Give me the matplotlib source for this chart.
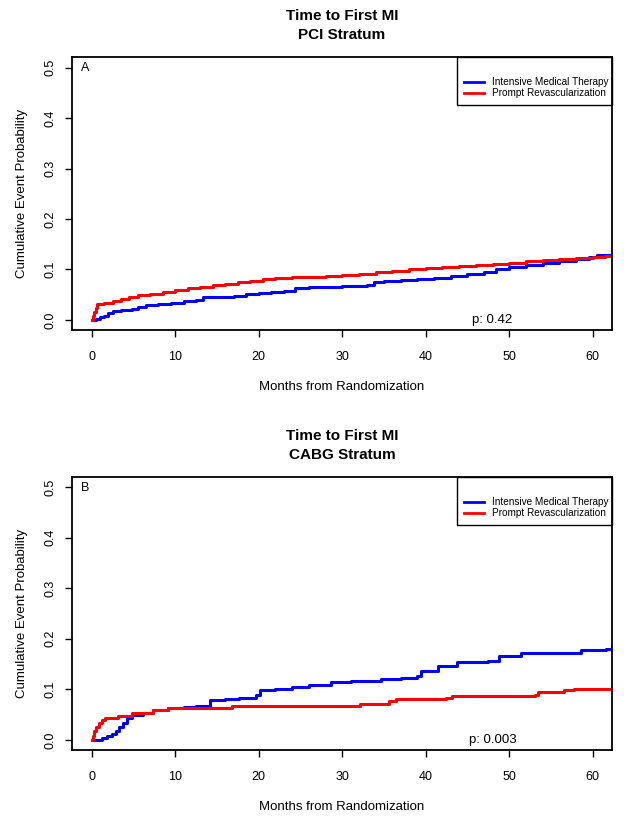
import matplotlib
matplotlib.use("Agg")
import matplotlib.pyplot as plt
from matplotlib.patches import Rectangle

plt.rcParams['font.family'] = ['Liberation Sans', 'DejaVu Sans']

# panel A: PCI stratum (months, cumulative event probability)
pci_med_t = [0, 0.5, 1, 1.5, 2, 2.6, 3.5, 4.8, 5.5, 6.5, 8, 9.5, 11, 12.5, 13.3, 15, 17, 18.5,
             20, 21.5, 23, 24.4, 26, 28.3, 30, 33, 33.8, 35, 37, 39, 41, 43, 45, 47, 48.4,
             50, 52, 54, 56, 58, 59.5, 60.5, 62.5]
pci_med_y = [0, 0.002, 0.005, 0.008, 0.013, 0.018, 0.020, 0.022, 0.026, 0.030, 0.032, 0.034,
             0.037, 0.040, 0.045, 0.046, 0.048, 0.051, 0.053, 0.056, 0.058, 0.064, 0.065,
             0.066, 0.068, 0.069, 0.076, 0.077, 0.079, 0.082, 0.084, 0.087, 0.090, 0.094,
             0.101, 0.104, 0.109, 0.112, 0.116, 0.120, 0.124, 0.129, 0.129]
pci_rev_t = [0, 0.15, 0.3, 0.5, 0.7, 1.5, 2.5, 3.5, 4.5, 5.5, 7, 8.5, 10, 11.5, 13, 14.5, 16,
             17.5, 19, 20.5, 22, 24, 26, 28, 30, 32, 34, 36, 38, 40, 42, 44, 46, 48, 50, 52,
             54, 56, 58, 60, 61.5, 62.5]
pci_rev_y = [0, 0.008, 0.016, 0.024, 0.031, 0.034, 0.037, 0.041, 0.046, 0.049, 0.052, 0.056,
             0.060, 0.063, 0.066, 0.069, 0.072, 0.076, 0.078, 0.081, 0.083, 0.085, 0.086,
             0.087, 0.089, 0.091, 0.094, 0.097, 0.100, 0.102, 0.105, 0.107, 0.109, 0.111,
             0.113, 0.116, 0.118, 0.121, 0.123, 0.124, 0.126, 0.126]

# panel B: CABG stratum
cabg_med_t = [0, 0.7, 1.3, 1.8, 2.4, 2.9, 3.3, 3.7, 4.2, 4.8, 6.1, 7.4, 9.1, 11, 12.5, 14.2,
              16, 17.6, 19.7, 20.2, 22, 24, 26, 28.7, 31, 34.7, 37, 39, 39.4, 41.5, 43.7,
              47.5, 48.8, 51.4, 57.8, 58.6, 61.6, 62.3]
cabg_med_y = [0, 0, 0.004, 0.007, 0.012, 0.017, 0.025, 0.034, 0.043, 0.050, 0.053, 0.060,
              0.063, 0.065, 0.068, 0.079, 0.081, 0.083, 0.0895, 0.098, 0.101, 0.105, 0.109,
              0.114, 0.116, 0.120, 0.123, 0.126, 0.136, 0.146, 0.155, 0.156, 0.165, 0.172,
              0.172, 0.178, 0.180, 0.186]
cabg_rev_t = [0, 0.15, 0.3, 0.55, 0.85, 1.2, 1.6, 3.1, 4.8, 7.4, 9.1, 16.8, 32.1, 35.6, 36.4,
              42.4, 43.2, 53.1, 53.5, 56.5, 57.8, 62.5]
cabg_rev_y = [0, 0.008, 0.017, 0.026, 0.033, 0.039, 0.043, 0.048, 0.053, 0.060, 0.064, 0.068,
              0.070, 0.076, 0.081, 0.083, 0.087, 0.089, 0.094, 0.099, 0.100, 0.100]

panels = [
    ("Time to First MI\nPCI Stratum", "A", "p: 0.42", pci_med_t, pci_med_y, pci_rev_t, pci_rev_y),
    ("Time to First MI\nCABG Stratum", "B", "p: 0.003", cabg_med_t, cabg_med_y, cabg_rev_t, cabg_rev_y),
]
series_names = ["Intensive Medical Therapy", "Prompt Revascularization"]
series_colors = ['#0000ff', '#ff0000']
xticks = [0, 10, 20, 30, 40, 50, 60]
yticks = [0.0, 0.1, 0.2, 0.3, 0.4, 0.5]

W, H = 624, 821
fig = plt.figure(figsize=(W / 100, H / 100), dpi=100)

boxes = [(72, 57.5, 612, 330), (72, 477, 612, 750)]

for (title, tag, ptxt, t1, y1, t2, y2), (l, t, r, b) in zip(panels, boxes):
    ax = fig.add_axes([l / W, 1 - b / H, (r - l) / W, (b - t) / H])
    ax.step(t1, y1, where='post', color=series_colors[0], lw=2.2)
    ax.step(t2, y2, where='post', color=series_colors[1], lw=2.2)
    ax.set_xlim(-2.35, 62.3)
    ax.set_ylim(-0.02, 0.52)
    ax.set_xticks(xticks)
    ax.set_yticks(yticks)
    ax.set_yticklabels([f"{v:.1f}" for v in yticks], rotation=90, va='center')
    ax.tick_params(labelsize=9, length=5, width=1)
    ax.tick_params(axis='x', pad=10)
    ax.tick_params(axis='y', pad=6)
    for s in ax.spines.values():
        s.set_linewidth(1.3)
    ax.set_title(title, fontsize=11, fontweight='bold', pad=13, linespacing=1.45)
    ax.set_xlabel("Months from Randomization", fontsize=9.5, labelpad=13)
    ax.set_ylabel("Cumulative Event Probability", fontsize=9.5, labelpad=12)
    ax.text(0.025, 0.96, tag, transform=ax.transAxes, fontsize=9, va='center', ha='center')
    ax.text(48, 0.0, ptxt, fontsize=9.5, ha='center', va='center')

    # legend box, drawn by hand to match the original layout
    ax.add_patch(Rectangle((0.713, 0.826), 0.287, 0.174, transform=ax.transAxes,
                           fill=False, edgecolor='black', lw=1.0, clip_on=False))
    for name, col, yy in zip(series_names, series_colors, [0.909, 0.869]):
        ax.plot([0.726, 0.763], [yy, yy], transform=ax.transAxes, color=col, lw=2.0)
        ax.text(0.778, yy, name, transform=ax.transAxes, fontsize=7.2, va='center', ha='left')

fig.savefig("out.png", dpi=100)
